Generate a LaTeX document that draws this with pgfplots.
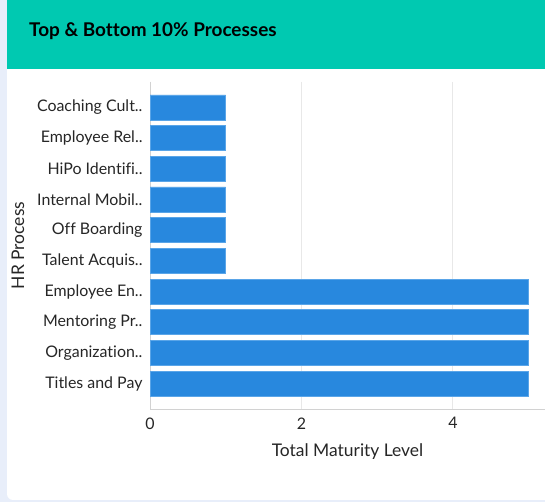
\documentclass[border=0pt]{standalone}
\usepackage{fontspec}
\setmainfont{Lato}[Ligatures=NoCommon]
\usepackage{pgfplots}
\pgfplotsset{compat=1.18}
\definecolor{header}{RGB}{0,201,177}
\definecolor{strip}{RGB}{232,238,250}
\definecolor{barfill}{RGB}{40,136,222}
\definecolor{baredge}{RGB}{90,165,232}
\definecolor{gridc}{RGB}{232,232,232}
\definecolor{axisc}{RGB}{210,210,210}
\begin{document}
\begin{tikzpicture}[x=1bp,y=1bp]
\useasboundingbox (0,0) rectangle (545,502);
\fill[strip] (0,0) rectangle (545,502);
\fill[white, rounded corners=6bp] (7,2) rectangle (560,450);
\fill[header] (7,433) rectangle (545,502);
\node[anchor=base west, inner sep=0pt, font=\fontsize{19}{22}\selectfont\bfseries] at (29,465) {Top \& Bottom 10\% Processes};
\begin{axis}[
  at={(150bp,93bp)}, anchor=south west,
  scale only axis, width=395bp, height=327bp,
  xbar, bar width=0.815,
  xmin=0, xmax=5.215,
  ymin=-0.83, ymax=9.83, y dir=reverse,
  ytick={0,...,9},
  yticklabels={Coaching Cult..,Employee Rel..,HiPo Identifi..,Internal Mobil..,Off Boarding,Talent Acquis..,Employee En..,Mentoring Pr..,Organization..,Titles and Pay},
  xtick={0,2,4},
  axis x line*=bottom, axis y line*=left,
  x axis line style={-, draw=axisc, line width=1pt},
  y axis line style={-, draw=axisc, line width=1pt},
  xmajorgrids, major grid style={draw=gridc, line width=1pt},
  major x tick style={draw=gridc, line width=1pt},
  major tick length=3bp,
  ytick style={draw=none},
  tick label style={font=\fontsize{16}{18}\selectfont, text=black!85},
  /pgf/number format/assume math mode=true,
  xticklabel style={yshift=-5bp},
  yticklabel style={xshift=-1bp},
  xlabel={Total Maturity Level}, ylabel={HR Process},
  every axis x label/.style={at={(axis description cs:0.5,-0.131)}, anchor=center, font=\fontsize{17.5}{20}\selectfont, text=black!85},
  every axis y label/.style={at={(axis description cs:-0.334,0.5)}, anchor=center, rotate=90, font=\fontsize{17.5}{20}\selectfont, text=black!85},
]
\addplot[fill=barfill, draw=baredge, line width=0.6pt] coordinates {
(1,0) (1,1) (1,2) (1,3) (1,4) (1,5) (5,6) (5,7) (5,8) (5,9)};
\end{axis}
\end{tikzpicture}
\end{document}
